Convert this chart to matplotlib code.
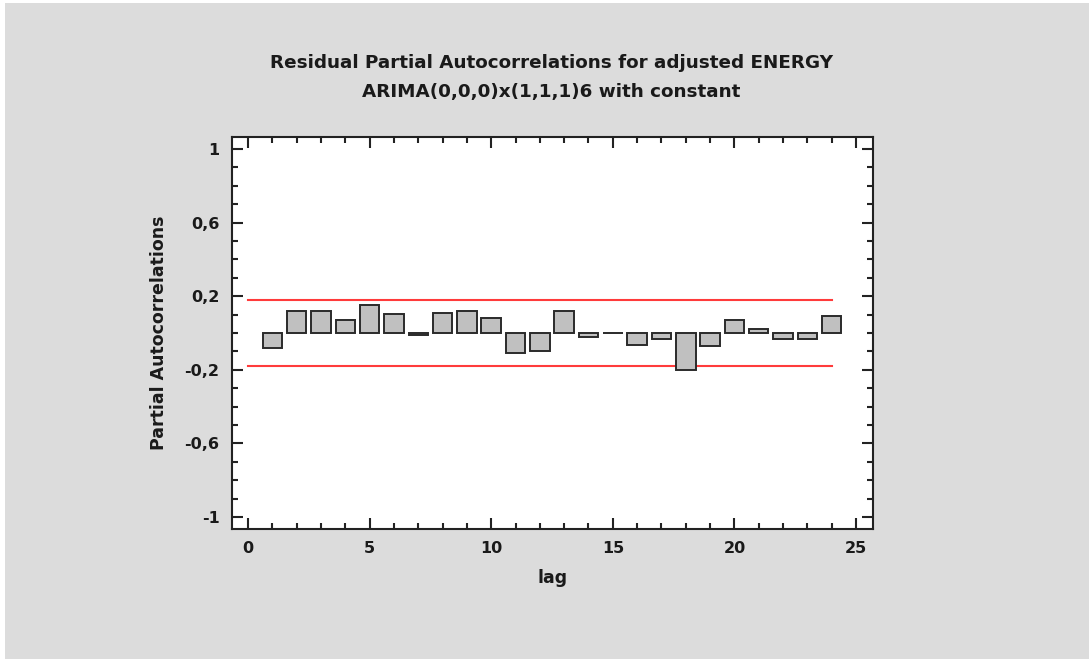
import numpy as np
import matplotlib.pyplot as plt
from matplotlib.ticker import MultipleLocator, FixedLocator, FuncFormatter
from matplotlib.patches import Rectangle

plt.rcParams['font.family'] = ['DejaVu Sans']

# residual partial autocorrelations by lag
lags = np.arange(1, 25)
pacf = [-0.084, 0.122, 0.122, 0.072, 0.153, 0.102, -0.010, 0.109,
        0.122, 0.080, -0.111, -0.100, 0.122, -0.021, -0.002, -0.064,
        -0.032, -0.200, -0.071, 0.073, 0.023, -0.032, -0.032, 0.095]
# 95% probability limits
limit = 0.182

fig = plt.figure(figsize=(10.89, 6.59), dpi=100, facecolor='white')
fig.patches.append(Rectangle((5 / 1089, 0), 1, 1 - 3 / 659, transform=fig.transFigure,
                             facecolor='#dcdcdc', edgecolor='none', zorder=-10))
ax = fig.add_axes([0.213, 0.1973, 0.5887, 0.5948])
ax.set_facecolor('white')

ax.bar(lags, pacf, width=0.8, color='#c0c0c0', edgecolor='#2a2a2a', linewidth=1.4, zorder=3)
ax.plot([0, 24], [limit, limit], color='#ff3b3b', lw=1.5, zorder=2)
ax.plot([0, 24], [-limit, -limit], color='#ff3b3b', lw=1.5, zorder=2)

ax.set_xlim(-0.66, 25.7)
ax.set_ylim(-1.065, 1.065)
ax.xaxis.set_major_locator(MultipleLocator(5))
ax.xaxis.set_minor_locator(MultipleLocator(1))
ax.yaxis.set_major_locator(FixedLocator([-1, -0.6, -0.2, 0.2, 0.6, 1]))
ax.yaxis.set_minor_locator(FixedLocator(np.round(np.arange(-1, 1.01, 0.1), 1)))


def comma(v, pos):
    if abs(v - round(v)) < 1e-9:
        return '%d' % round(v)
    return ('%.1f' % v).replace('.', ',')


ax.yaxis.set_major_formatter(FuncFormatter(comma))
ax.tick_params(which='both', direction='in', top=True, right=True, width=1.5, color='#222222')
ax.tick_params(which='major', length=8, labelsize=11.5)
ax.tick_params(axis='x', which='major', pad=9)
ax.tick_params(axis='y', which='major', pad=9)
ax.tick_params(which='minor', length=4)
for lbl in ax.get_xticklabels() + ax.get_yticklabels():
    lbl.set_fontweight('bold')
    lbl.set_color('#1a1a1a')
for s in ax.spines.values():
    s.set_linewidth(1.5)
    s.set_color('#222222')

ax.set_xlabel('lag', fontsize=12.5, fontweight='bold', color='#1a1a1a', labelpad=9)
ax.set_ylabel('Partial Autocorrelations', fontsize=12.5, fontweight='bold', color='#1a1a1a', labelpad=12)
fig.text(0.506, 0.905, 'Residual Partial Autocorrelations for adjusted ENERGY',
         ha='center', va='center', fontsize=13.2, fontweight='bold', color='#1a1a1a')
fig.text(0.506, 0.861, 'ARIMA(0,0,0)x(1,1,1)6 with constant',
         ha='center', va='center', fontsize=13.2, fontweight='bold', color='#1a1a1a')

fig.savefig('out.png', dpi=100, facecolor=fig.get_facecolor())
